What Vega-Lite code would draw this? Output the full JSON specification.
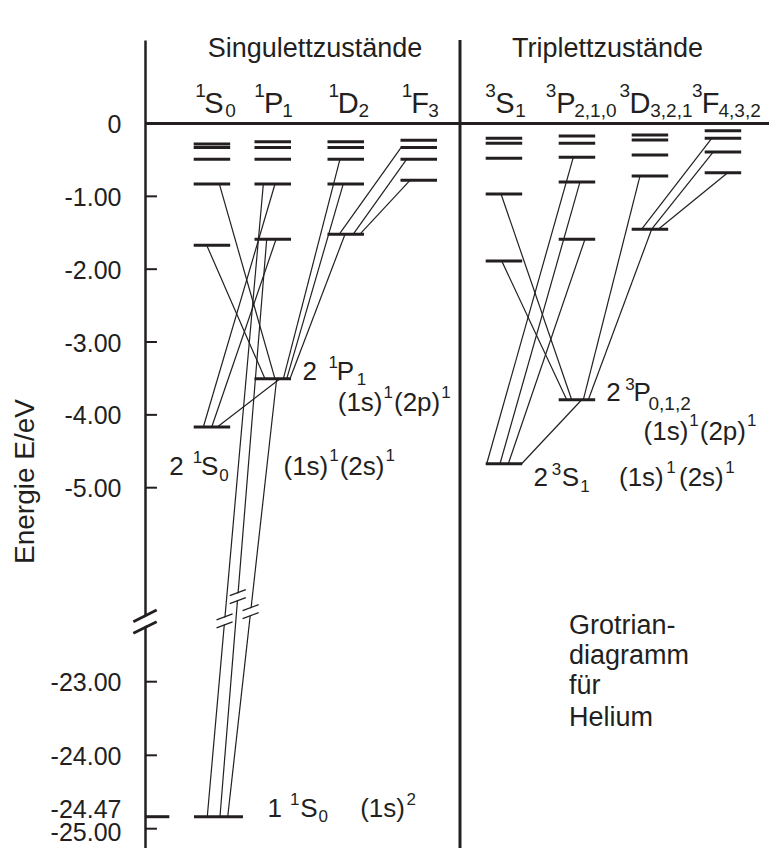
{
  "$schema": "https://vega.github.io/schema/vega-lite/v6.json",
  "width": 624,
  "height": 808,
  "autosize": {"type": "none"},
  "padding": {"left": 145, "top": 40, "right": 0, "bottom": 0},
  "background": "white",
  "config": {"font": "Liberation Sans", "view": {"stroke": null}},
  "encoding": {
    "x": {"field": "x", "type": "quantitative", "scale": {"domain": [0, 8.548], "nice": false, "zero": false}, "axis": null},
    "y": {
      "field": "E", "type": "quantitative",
      "scale": {"domain": [-25.85, -25, -24.47, -24, -23, -5, 0, 1.145], "range": [808, 788.7, 776.7, 715.3, 641.7, 447.7, 83.5, 0], "nice": false, "zero": false},
      "axis": {
        "values": [0, -1, -2, -3, -4, -5, -23, -24, -24.47, -25],
        "labelExpr": "datum.value == 0 ? '0' : '-' + format(abs(datum.value), '.2f')",
        "ticks": false, "grid": false,
        "domainColor": "#231f20", "domainWidth": 2.5,
        "labelFont": "Liberation Sans", "labelFontSize": 25, "labelColor": "#231f20",
        "labelPadding": 24,
        "labelBaseline": {"condition": {"test": "datum.value == -24.47", "value": "alphabetic"}, "value": "middle"},
        "labelOffset": {"condition": {"test": "datum.value == -25", "value": 4}, "value": 1},
        "labelOverlap": false,
        "title": "Energie E/eV", "titleFont": "Liberation Sans", "titleFontSize": 28, "titleFontWeight": "normal",
        "titleColor": "#231f20", "titleAngle": -90, "titleX": -112, "titleY": 441, "titleAlign": "center", "titleBaseline": "alphabetic"
      }
    }
  },
  "layer": [
    {
      "data": {"values": [
        {"x": 0.667, "x2": 1.167, "E": -0.28}, {"x": 0.667, "x2": 1.167, "E": -0.33}, {"x": 0.667, "x2": 1.167, "E": -0.49}, {"x": 0.667, "x2": 1.167, "E": -0.83}, {"x": 0.667, "x2": 1.167, "E": -1.67}, {"x": 0.667, "x2": 1.167, "E": -4.167},
        {"x": 1.5, "x2": 2.0, "E": -0.25}, {"x": 1.5, "x2": 2.0, "E": -0.33}, {"x": 1.5, "x2": 2.0, "E": -0.49}, {"x": 1.5, "x2": 2.0, "E": -0.83}, {"x": 1.5, "x2": 2.0, "E": -1.59}, {"x": 1.5, "x2": 2.0, "E": -3.505},
        {"x": 2.5, "x2": 3.0, "E": -0.25}, {"x": 2.5, "x2": 3.0, "E": -0.33}, {"x": 2.5, "x2": 3.0, "E": -0.49}, {"x": 2.5, "x2": 3.0, "E": -0.83}, {"x": 2.5, "x2": 3.0, "E": -1.52},
        {"x": 3.5, "x2": 4.0, "E": -0.23}, {"x": 3.5, "x2": 4.0, "E": -0.33}, {"x": 3.5, "x2": 4.0, "E": -0.49}, {"x": 3.5, "x2": 4.0, "E": -0.78},
        {"x": 4.667, "x2": 5.167, "E": -0.203}, {"x": 4.667, "x2": 5.167, "E": -0.272}, {"x": 4.667, "x2": 5.167, "E": -0.477}, {"x": 4.667, "x2": 5.167, "E": -0.967}, {"x": 4.667, "x2": 5.167, "E": -1.886}, {"x": 4.667, "x2": 5.167, "E": -4.671},
        {"x": 5.667, "x2": 6.167, "E": -0.171}, {"x": 5.667, "x2": 6.167, "E": -0.272}, {"x": 5.667, "x2": 6.167, "E": -0.464}, {"x": 5.667, "x2": 6.167, "E": -0.802}, {"x": 5.667, "x2": 6.167, "E": -1.589}, {"x": 5.667, "x2": 6.167, "E": -3.793},
        {"x": 6.667, "x2": 7.167, "E": -0.158}, {"x": 6.667, "x2": 7.167, "E": -0.226}, {"x": 6.667, "x2": 7.167, "E": -0.432}, {"x": 6.667, "x2": 7.167, "E": -0.720}, {"x": 6.667, "x2": 7.167, "E": -1.451},
        {"x": 7.667, "x2": 8.167, "E": -0.099}, {"x": 7.667, "x2": 8.167, "E": -0.203}, {"x": 7.667, "x2": 8.167, "E": -0.391}, {"x": 7.667, "x2": 8.167, "E": -0.675},
        {"x": 0.671, "x2": 1.342, "E": -24.47}
      ]},
      "mark": {"type": "rule", "strokeWidth": 3, "color": "#231f20"},
      "encoding": {"x2": {"field": "x2"}}
    },
    {
      "data": {"values": [
        {"x": 1.018, "E": -0.83, "x2": 1.781, "E2": -3.505},
        {"x": 0.845, "E": -1.67, "x2": 1.644, "E2": -3.505},
        {"x": 0.799, "E": -4.167, "x2": 1.781, "E2": -0.83},
        {"x": 0.914, "E": -4.167, "x2": 1.795, "E2": -1.59},
        {"x": 1.849, "E": -3.505, "x2": 0.990, "E2": -4.167},
        {"x": 1.621, "E": -0.83, "x2": 0.853, "E2": -24.47},
        {"x": 1.667, "E": -1.59, "x2": 1.027, "E2": -24.47},
        {"x": 1.804, "E": -3.505, "x2": 1.133, "E2": -24.47},
        {"x": 2.671, "E": -0.49, "x2": 1.895, "E2": -3.505},
        {"x": 2.716, "E": -0.83, "x2": 1.941, "E2": -3.505},
        {"x": 2.740, "E": -1.52, "x2": 1.986, "E2": -3.505},
        {"x": 3.507, "E": -0.33, "x2": 2.662, "E2": -1.52},
        {"x": 3.585, "E": -0.49, "x2": 2.853, "E2": -1.52},
        {"x": 3.630, "E": -0.78, "x2": 2.945, "E2": -1.52},
        {"x": 4.877, "E": -0.967, "x2": 5.845, "E2": -3.793},
        {"x": 4.886, "E": -1.886, "x2": 5.777, "E2": -3.793},
        {"x": 4.681, "E": -4.671, "x2": 5.867, "E2": -0.464},
        {"x": 4.863, "E": -4.671, "x2": 5.959, "E2": -0.802},
        {"x": 4.977, "E": -4.671, "x2": 6.027, "E2": -1.589},
        {"x": 5.982, "E": -3.793, "x2": 5.160, "E2": -4.671},
        {"x": 6.781, "E": -0.720, "x2": 6.004, "E2": -3.793},
        {"x": 6.941, "E": -1.451, "x2": 6.073, "E2": -3.793},
        {"x": 7.763, "E": -0.203, "x2": 6.804, "E2": -1.451},
        {"x": 7.785, "E": -0.391, "x2": 6.941, "E2": -1.451},
        {"x": 7.982, "E": -0.675, "x2": 7.032, "E2": -1.451}
      ]},
      "mark": {"type": "rule", "strokeWidth": 1.2, "color": "#231f20"},
      "encoding": {"x2": {"field": "x2"}, "y2": {"field": "E2"}}
    },
    {
      "data": {"values": [
        {"x": 0.994, "E": -17.644, "x2": 1.186, "E2": -17.088},
        {"x": 1.175, "E": -15.389, "x2": 1.367, "E2": -14.833},
        {"x": 1.351, "E": -16.781, "x2": 1.543, "E2": -16.225}
      ]},
      "mark": {"type": "rule", "strokeWidth": 6, "color": "white"},
      "encoding": {"x2": {"field": "x2"}, "y2": {"field": "E2"}}
    },
    {
      "data": {"values": [
        {"x": -0.150, "E": -17.968, "x2": 0.150, "E2": -16.883}
      ]},
      "mark": {"type": "rule", "strokeWidth": 8, "color": "white"},
      "encoding": {"x2": {"field": "x2"}, "y2": {"field": "E2"}}
    },
    {
      "data": {"values": [
        {"x": 0.980, "E": -17.273, "x2": 1.200, "E2": -16.717},
        {"x": 0.980, "E": -18.015, "x2": 1.200, "E2": -17.459},
        {"x": 1.161, "E": -15.018, "x2": 1.381, "E2": -14.462},
        {"x": 1.161, "E": -15.760, "x2": 1.381, "E2": -15.204},
        {"x": 1.337, "E": -16.410, "x2": 1.557, "E2": -15.854},
        {"x": 1.337, "E": -17.152, "x2": 1.557, "E2": -16.596}
      ]},
      "mark": {"type": "rule", "strokeWidth": 1.3, "color": "#231f20"},
      "encoding": {"x2": {"field": "x2"}, "y2": {"field": "E2"}}
    },
    {
      "data": {"values": [
        {"x": -0.160, "E": -17.430, "x2": 0.160, "E2": -16.345},
        {"x": -0.160, "E": -18.506, "x2": 0.160, "E2": -17.430}
      ]},
      "mark": {"type": "rule", "strokeWidth": 2.8, "color": "#231f20"},
      "encoding": {"x2": {"field": "x2"}, "y2": {"field": "E2"}}
    },
    {
      "data": {"values": [
        {"x": 0, "x2": 8.548, "E": 0, "E2": 0},
        {"x": 4.315, "x2": 4.315, "E": 1.145, "E2": -25.85}
      ]},
      "mark": {"type": "rule", "strokeWidth": 3, "color": "#231f20"},
      "encoding": {"x2": {"field": "x2"}, "y2": {"field": "E2"}}
    },
    {
      "data": {"values": [
        {"x": 0, "x2": 0.164, "E": -1}, {"x": 0, "x2": 0.164, "E": -2}, {"x": 0, "x2": 0.164, "E": -3},
        {"x": 0, "x2": 0.164, "E": -4}, {"x": 0, "x2": 0.164, "E": -5}, {"x": 0, "x2": 0.164, "E": -23},
        {"x": 0, "x2": 0.164, "E": -24}, {"x": 0, "x2": 0.164, "E": -25}
      ]},
      "mark": {"type": "rule", "strokeWidth": 2, "color": "#231f20"},
      "encoding": {"x2": {"field": "x2"}}
    },
    {
      "data": {"values": [{"x": 0, "x2": 0.333, "E": -24.47}]},
      "mark": {"type": "rule", "strokeWidth": 3, "color": "#231f20"},
      "encoding": {"x2": {"field": "x2"}}
    },
    {
      "data": {"values": [
        {"t": "Singulettzustände", "x": 2.329, "E": 0.916},
        {"t": "Triplettzustände", "x": 6.336, "E": 0.916}
      ]},
      "mark": {"type": "text", "align": "center", "baseline": "alphabetic", "fontSize": 27, "color": "#231f20"},
      "encoding": {"text": {"field": "t"}}
    },
    {
      "data": {"values": [
        {"t": "S", "x": 0.811, "E": 0.148}, {"t": "P", "x": 1.630, "E": 0.148}, {"t": "D", "x": 2.641, "E": 0.148}, {"t": "F", "x": 3.647, "E": 0.148},
        {"t": "S", "x": 4.797, "E": 0.148}, {"t": "P", "x": 5.635, "E": 0.148}, {"t": "D", "x": 6.637, "E": 0.148}, {"t": "F", "x": 7.627, "E": 0.148}
      ]},
      "mark": {"type": "text", "align": "left", "baseline": "alphabetic", "fontSize": 29, "color": "#231f20"},
      "encoding": {"text": {"field": "t"}}
    },
    {
      "data": {"values": [
        {"t": "1", "x": 0.688, "E": 0.368}, {"t": "1", "x": 1.495, "E": 0.368}, {"t": "1", "x": 2.514, "E": 0.368}, {"t": "1", "x": 3.518, "E": 0.368},
        {"t": "3", "x": 4.660, "E": 0.368}, {"t": "3", "x": 5.490, "E": 0.368}, {"t": "3", "x": 6.500, "E": 0.368}, {"t": "3", "x": 7.494, "E": 0.368},
        {"t": "0", "x": 1.099, "E": 0.093}, {"t": "1", "x": 1.880, "E": 0.093}, {"t": "2", "x": 2.925, "E": 0.093}, {"t": "3", "x": 3.880, "E": 0.093},
        {"t": "1", "x": 5.071, "E": 0.093}, {"t": "2,1,0", "x": 5.880, "E": 0.093}, {"t": "3,2,1", "x": 6.921, "E": 0.093}, {"t": "4,3,2", "x": 7.856, "E": 0.093},
        {"t": "0,1,2", "x": 6.897, "E": -3.930}
      ]},
      "mark": {"type": "text", "align": "left", "baseline": "alphabetic", "fontSize": 19, "color": "#231f20"},
      "encoding": {"text": {"field": "t"}}
    },
    {
      "data": {"values": [
        {"t": "2", "x": 2.158, "E": -3.518}, {"t": "P", "x": 2.627, "E": -3.518},
        {"t": "(1s)", "x": 2.640, "E": -3.953}, {"t": "(2p)", "x": 3.411, "E": -3.953},
        {"t": "2", "x": 0.332, "E": -4.822}, {"t": "S", "x": 0.766, "E": -4.822},
        {"t": "(1s)", "x": 1.897, "E": -4.822}, {"t": "(2s)", "x": 2.667, "E": -4.822},
        {"t": "2", "x": 6.318, "E": -3.816}, {"t": "P", "x": 6.692, "E": -3.816},
        {"t": "(1s)", "x": 6.829, "E": -4.342}, {"t": "(2p)", "x": 7.599, "E": -4.342},
        {"t": "2", "x": 5.322, "E": -4.982}, {"t": "S", "x": 5.710, "E": -4.982},
        {"t": "(1s)", "x": 6.493, "E": -4.982}, {"t": "(2s)", "x": 7.315, "E": -4.982},
        {"t": "1", "x": 1.678, "E": -24.47}, {"t": "S", "x": 2.126, "E": -24.47}, {"t": "(1s)", "x": 2.948, "E": -24.47}
      ]},
      "mark": {"type": "text", "align": "left", "baseline": "alphabetic", "fontSize": 26, "color": "#231f20"},
      "encoding": {"text": {"field": "t"}}
    },
    {
      "data": {"values": [
        {"t": "1", "x": 2.514, "E": -3.358}, {"t": "1", "x": 2.901, "E": -3.587},
        {"t": "1", "x": 3.268, "E": -3.770}, {"t": "1", "x": 4.058, "E": -3.770},
        {"t": "1", "x": 0.654, "E": -4.661}, {"t": "0", "x": 1.017, "E": -4.914},
        {"t": "1", "x": 2.525, "E": -4.638}, {"t": "1", "x": 3.295, "E": -4.638},
        {"t": "3", "x": 6.578, "E": -3.656},
        {"t": "1", "x": 7.456, "E": -4.158}, {"t": "1", "x": 8.245, "E": -4.158},
        {"t": "3", "x": 5.573, "E": -4.822}, {"t": "1", "x": 5.962, "E": -5.399},
        {"t": "1", "x": 7.140, "E": -4.798}, {"t": "1", "x": 7.950, "E": -4.798},
        {"t": "1", "x": 1.986, "E": -24.381}, {"t": "0", "x": 2.377, "E": -24.691}, {"t": "2", "x": 3.582, "E": -24.381}
      ]},
      "mark": {"type": "text", "align": "left", "baseline": "alphabetic", "fontSize": 17, "color": "#231f20"},
      "encoding": {"text": {"field": "t"}}
    },
    {
      "data": {"values": [
        {"t": "Grotrian-", "x": 5.808, "E": -18.572},
        {"t": "diagramm", "x": 5.808, "E": -21.354},
        {"t": "für", "x": 5.808, "E": -23.167},
        {"t": "Helium", "x": 5.808, "E": -23.598}
      ]},
      "mark": {"type": "text", "align": "left", "baseline": "alphabetic", "fontSize": 27, "color": "#231f20"},
      "encoding": {"text": {"field": "t"}}
    }
  ]
}
